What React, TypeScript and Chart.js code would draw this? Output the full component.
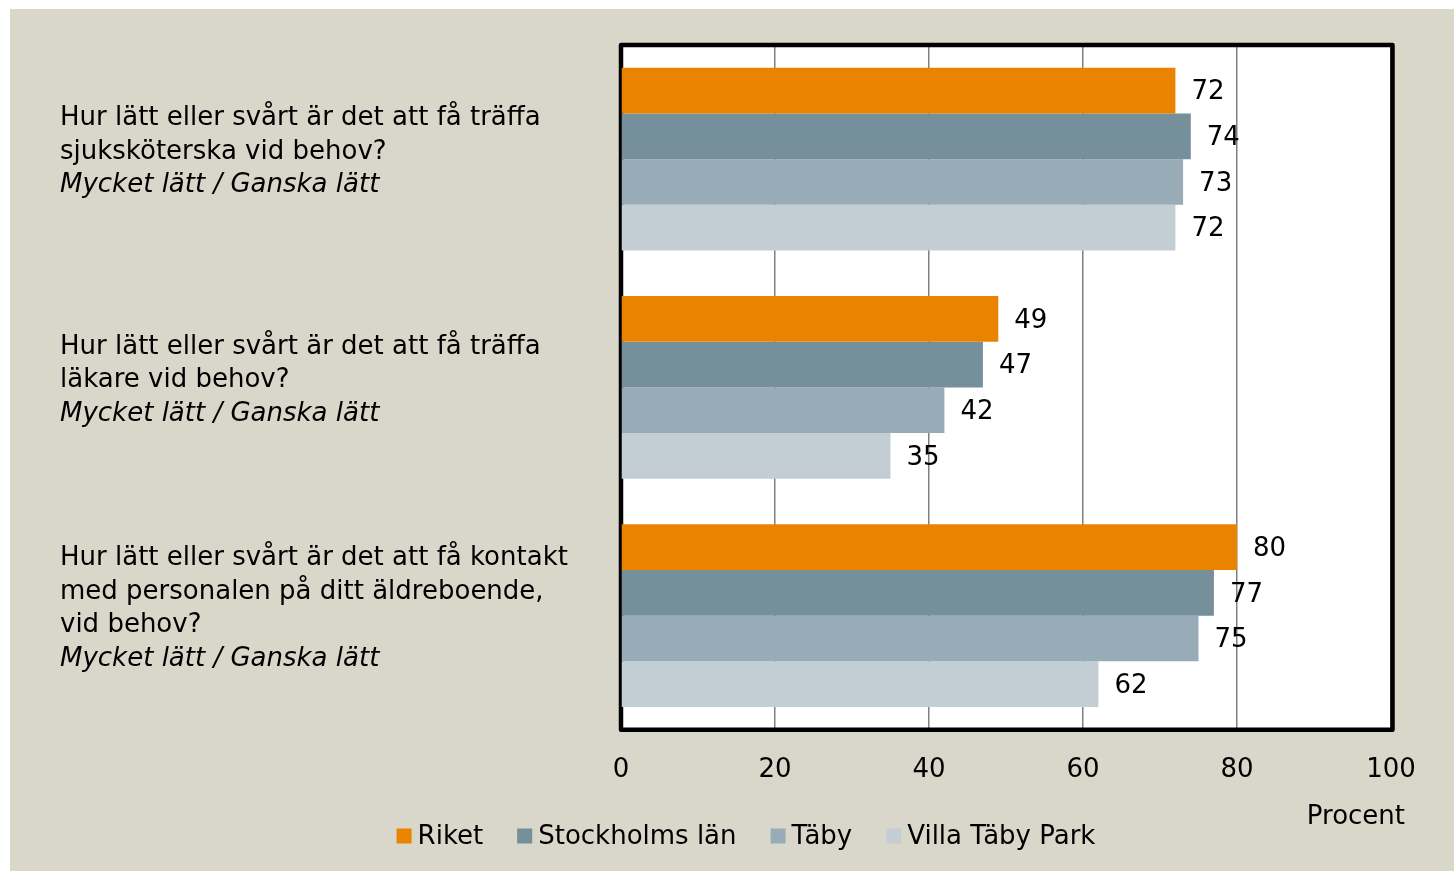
import React, { useEffect, useRef } from "react";
import { Chart, registerables } from "chart.js";

Chart.register(...registerables);

const categoryLines: string[][] = [
  ["Hur lätt eller svårt är det att få träffa", "sjuksköterska vid behov?"],
  ["Hur lätt eller svårt är det att få träffa", "läkare vid behov?"],
  ["Hur lätt eller svårt är det att få kontakt", "med personalen på ditt äldreboende,", "vid behov?"],
];
const categorySub = "Mycket lätt / Ganska lätt";
const seriesNames = ["Riket", "Stockholms län", "Täby", "Villa Täby Park"];
const riket = [72, 49, 80];
const stockholm = [74, 47, 77];
const taby = [73, 42, 75];
const villa = [72, 35, 62];
const seriesColors = ["#EA8400", "#758F9B", "#98ACB7", "#C3CDD4"];
const xTicks = [0, 20, 40, 60, 80, 100];
const axisUnit = "Procent";

const FONT = "'DejaVu Sans', sans-serif";
const BG = "#D9D7CA";

const decorPlugin = {
  id: "decor",
  beforeDraw(chart: any) {
    const { ctx, chartArea: a } = chart;
    ctx.save();
    ctx.fillStyle = BG;
    ctx.fillRect(0, 0, chart.width, chart.height);
    ctx.fillStyle = "#FFFFFF";
    ctx.fillRect(a.left, a.top, a.right - a.left + 1, a.bottom - a.top);
    ctx.restore();
  },
  beforeDatasetsDraw(chart: any) {
    const { ctx, chartArea: a } = chart;
    ctx.save();
    ctx.strokeStyle = "#000";
    ctx.lineWidth = 4.5;
    ctx.lineJoin = "round";
    ctx.strokeRect(a.left, a.top, a.right - a.left + 1.5, a.bottom - a.top);
    ctx.restore();
  },
  afterDatasetsDraw(chart: any) {
    const { ctx } = chart;
    ctx.save();
    ctx.fillStyle = "#000";
    ctx.font = `26px ${FONT}`;
    ctx.textBaseline = "middle";
    ctx.textAlign = "left";
    chart.data.datasets.forEach((ds: any, di: number) => {
      const meta = chart.getDatasetMeta(di);
      meta.data.forEach((el: any, i: number) => {
        ctx.fillText(String(ds.data[i]), el.x + 16, el.y + 2);
      });
    });
    // category labels
    const yScale = chart.scales.y;
    const lh = 33.5;
    categoryLines.forEach((lines, i) => {
      const all = [...lines, categorySub];
      const cy = yScale.getPixelForValue(i) - 7;
      const y0 = cy - ((all.length - 1) * lh) / 2;
      all.forEach((t, k) => {
        ctx.font = k === all.length - 1 ? `italic 26px ${FONT}` : `26px ${FONT}`;
        ctx.fillText(t, 50, y0 + k * lh);
      });
    });
    // axis unit
    ctx.font = `26px ${FONT}`;
    ctx.textAlign = "right";
    ctx.fillText(axisUnit, 1395, 808);
    // legend
    ctx.textAlign = "left";
    const box = 15, gapText = 6, gapItem = 34;
    const widths = seriesNames.map((n) => ctx.measureText(n).width);
    const total = widths.reduce((s, w) => s + box + gapText + w, 0) + gapItem * (seriesNames.length - 1);
    let x = 736 - total / 2;
    const ly = 827;
    seriesNames.forEach((n, i) => {
      ctx.fillStyle = seriesColors[i];
      ctx.fillRect(x, ly - box / 2, box, box);
      ctx.fillStyle = "#000";
      ctx.fillText(n, x + box + gapText, ly + 1);
      x += box + gapText + widths[i] + gapItem;
    });
    ctx.restore();
  },
};

export default function App() {
  const ref = useRef<HTMLCanvasElement>(null);
  useEffect(() => {
    if (!ref.current) return;
    const chart = new Chart(ref.current, {
      type: "bar",
      data: {
        labels: categoryLines.map((l) => l.join(" ")),
        datasets: [riket, stockholm, taby, villa].map((d, i) => ({
          label: seriesNames[i],
          data: d,
          backgroundColor: seriesColors[i],
          borderWidth: 0,
          barPercentage: 1,
          categoryPercentage: 0.8,
        })),
      },
      options: {
        indexAxis: "y",
        animation: false,
        responsive: true,
        maintainAspectRatio: false,
        layout: { padding: { left: 611, right: 63, top: 36, bottom: 60 } },
        plugins: { legend: { display: false }, tooltip: { enabled: false } },
        scales: {
          x: {
            min: 0,
            max: 100,
            afterBuildTicks: (s: any) => {
              s.ticks = xTicks.map((v) => ({ value: v }));
            },
            grid: { color: "#808080", lineWidth: 1.5, drawTicks: false },
            border: { display: false },
            ticks: { color: "#000", font: { family: FONT, size: 26 }, padding: 25 },
          },
          y: { display: false },
        },
      },
      plugins: [decorPlugin],
    });
    return () => chart.destroy();
  }, []);
  return (
    <div style={{ position: "absolute", left: 10, top: 9, width: 1444, height: 862 }}>
      <canvas ref={ref} />
    </div>
  );
}
